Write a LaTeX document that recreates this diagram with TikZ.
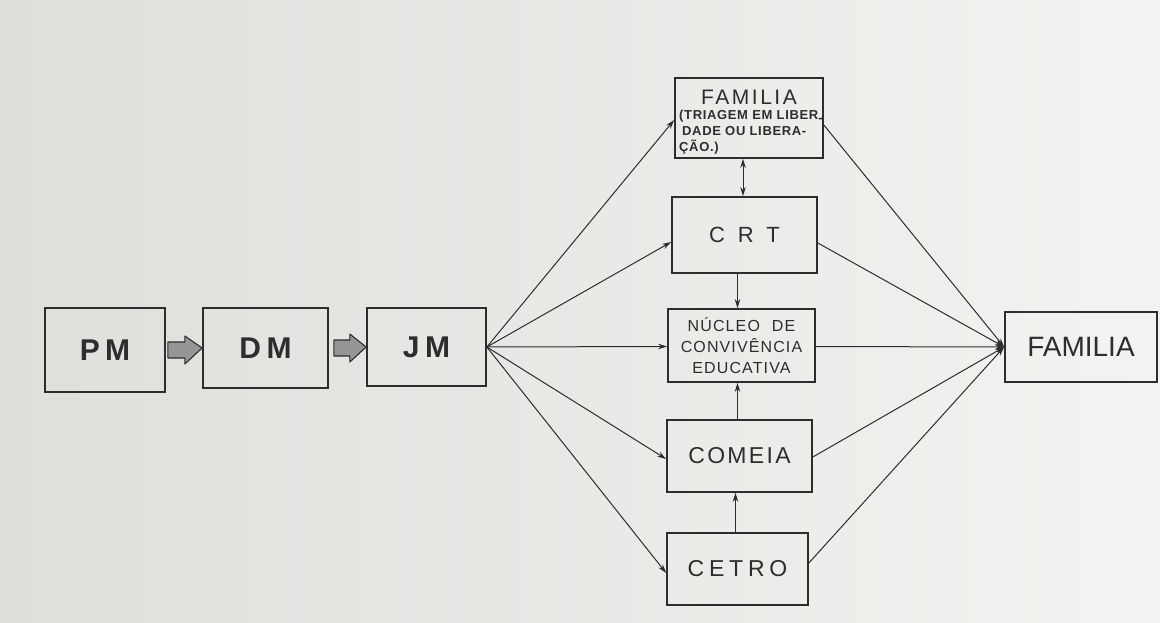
\documentclass[tikz,border=0pt]{standalone}
\usepackage{fontspec}
\setmainfont{Liberation Sans}
\usetikzlibrary{arrows.meta,calc}
\definecolor{paperL}{RGB}{222,222,219}
\definecolor{paperR}{RGB}{243,243,241}
\definecolor{ink}{RGB}{45,45,45}
\definecolor{blockfill}{RGB}{150,150,148}
\begin{document}
\begin{tikzpicture}[x=1pt,y=-1pt,
  box/.style={draw=ink, line width=1.7pt, inner sep=0pt, text=ink},
  conn/.style={draw=ink, line width=1pt, -{Stealth[length=9pt,width=5.5pt]}},
  conn2/.style={draw=ink, line width=1pt, {Stealth[length=9pt,width=5.5pt]}-{Stealth[length=9pt,width=5.5pt]}},
  blk/.style={draw=ink, line width=1.1pt, fill=blockfill, line join=round},
  lbl/.style={inner sep=0pt, text=ink}]
\path[left color=paperL, right color=paperR] (0,0) rectangle (1160,623);
\useasboundingbox (0,0) rectangle (1160,623);

% left chain
\node[box, minimum width=120pt, minimum height=84pt,
  font=\fontsize{30}{30}\selectfont\bfseries\addfontfeature{LetterSpace=18}] (pm) at (105,350) {PM};
\node[box, minimum width=125pt, minimum height=80pt,
  font=\fontsize{30}{30}\selectfont\bfseries\addfontfeature{LetterSpace=18}] (dm) at (265.5,348) {DM};
\node[box, minimum width=119pt, minimum height=78pt,
  font=\fontsize{30}{30}\selectfont\bfseries\addfontfeature{LetterSpace=18}] (jm) at (426.5,347) {JM};

% block arrows
\draw[blk] ($(pm.east)+(2,-8)$) -- ($(pm.east)+(19,-8)$) -- ($(pm.east)+(19,-14)$)
  -- (dm.west) -- ($(pm.east)+(19,14)$) -- ($(pm.east)+(19,8)$) -- ($(pm.east)+(2,8)$) -- cycle;
\draw[blk] ($(dm.east)+(5,-8)$) -- ($(dm.east)+(21,-8)$) -- ($(dm.east)+(21,-14)$)
  -- (jm.west) -- ($(dm.east)+(21,14)$) -- ($(dm.east)+(21,8)$) -- ($(dm.east)+(5,8)$) -- cycle;

% middle column
\node[box, minimum width=148pt, minimum height=80pt] (fam1) at (749,118) {};
\node[lbl, font=\fontsize{21}{21}\selectfont\addfontfeature{LetterSpace=12}] (fam1t) at (749,97) {FAMILIA};
\node[lbl, anchor=north west, align=left,
  font=\fontsize{13}{16}\selectfont\bfseries\addfontfeature{LetterSpace=5}] (fam1s) at (679,110)
  {(TRIAGEM EM LIBER\raisebox{-3pt}{-}\\
   \hspace{3pt}DADE OU LIBERA-\\ ÇÃO.)};

\node[box, minimum width=145pt, minimum height=76pt,
  font=\fontsize{22}{22}\selectfont\addfontfeature{LetterSpace=30}] (crt) at (744.5,235) {C R T};
\node[box, minimum width=147pt, minimum height=73pt, align=center,
  font=\fontsize{16}{21}\selectfont\addfontfeature{LetterSpace=7}] (nuc) at (741.5,345.5)
  {NÚCLEO\hspace{12pt}DE\\CONVIVÊNCIA\\EDUCATIVA};
\node[box, minimum width=145pt, minimum height=72pt,
  font=\fontsize{23}{23}\selectfont\addfontfeature{LetterSpace=10}] (com) at (739.5,456) {COMEIA\hspace{12pt}};
\node[box, minimum width=141pt, minimum height=72pt,
  font=\fontsize{23}{23}\selectfont\addfontfeature{LetterSpace=21}] (cet) at (737.5,569) {CETRO};

% right
\node[box, minimum width=152pt, minimum height=70pt,
  font=\fontsize{28}{28}\selectfont] (fam2) at (1081,347) {FAMILIA};

% fan out from JM
\draw[conn] (jm.east) -- ([yshift=-2pt]fam1.west);
\draw[conn] (jm.east) -- ([yshift=-7pt]crt.west);
\draw[conn] (jm.east) -- ([yshift=-1pt]nuc.west);
\draw[conn] (jm.east) -- ([yshift=-3pt]com.west);
\draw[conn] (jm.east) -- ([yshift=-4pt]cet.west);

% converge to FAMILIA
\draw[conn] ([yshift=-7pt]fam1.east) -- (fam2.west);
\draw[conn] ([yshift=-8pt]crt.east) -- (fam2.west);
\draw[conn] ([yshift=-1pt]nuc.east) -- (fam2.west);
\draw[conn] ([yshift=-1pt]com.east) -- (fam2.west);
\draw[conn] ([yshift=6pt]cet.east) -- (fam2.west);

% vertical links
\draw[conn2] ([xshift=-6pt]fam1.south) -- ([xshift=-6pt]fam1.south |- crt.north);
\draw[conn] ([xshift=-7pt]crt.south) -- ([xshift=-7pt]crt.south |- nuc.north);
\draw[conn] ([xshift=-2pt]com.north) -- ([xshift=-2pt]com.north |- nuc.south);
\draw[conn] ([xshift=-2pt]cet.north) -- ([xshift=-2pt]cet.north |- com.south);
\end{tikzpicture}
\end{document}
